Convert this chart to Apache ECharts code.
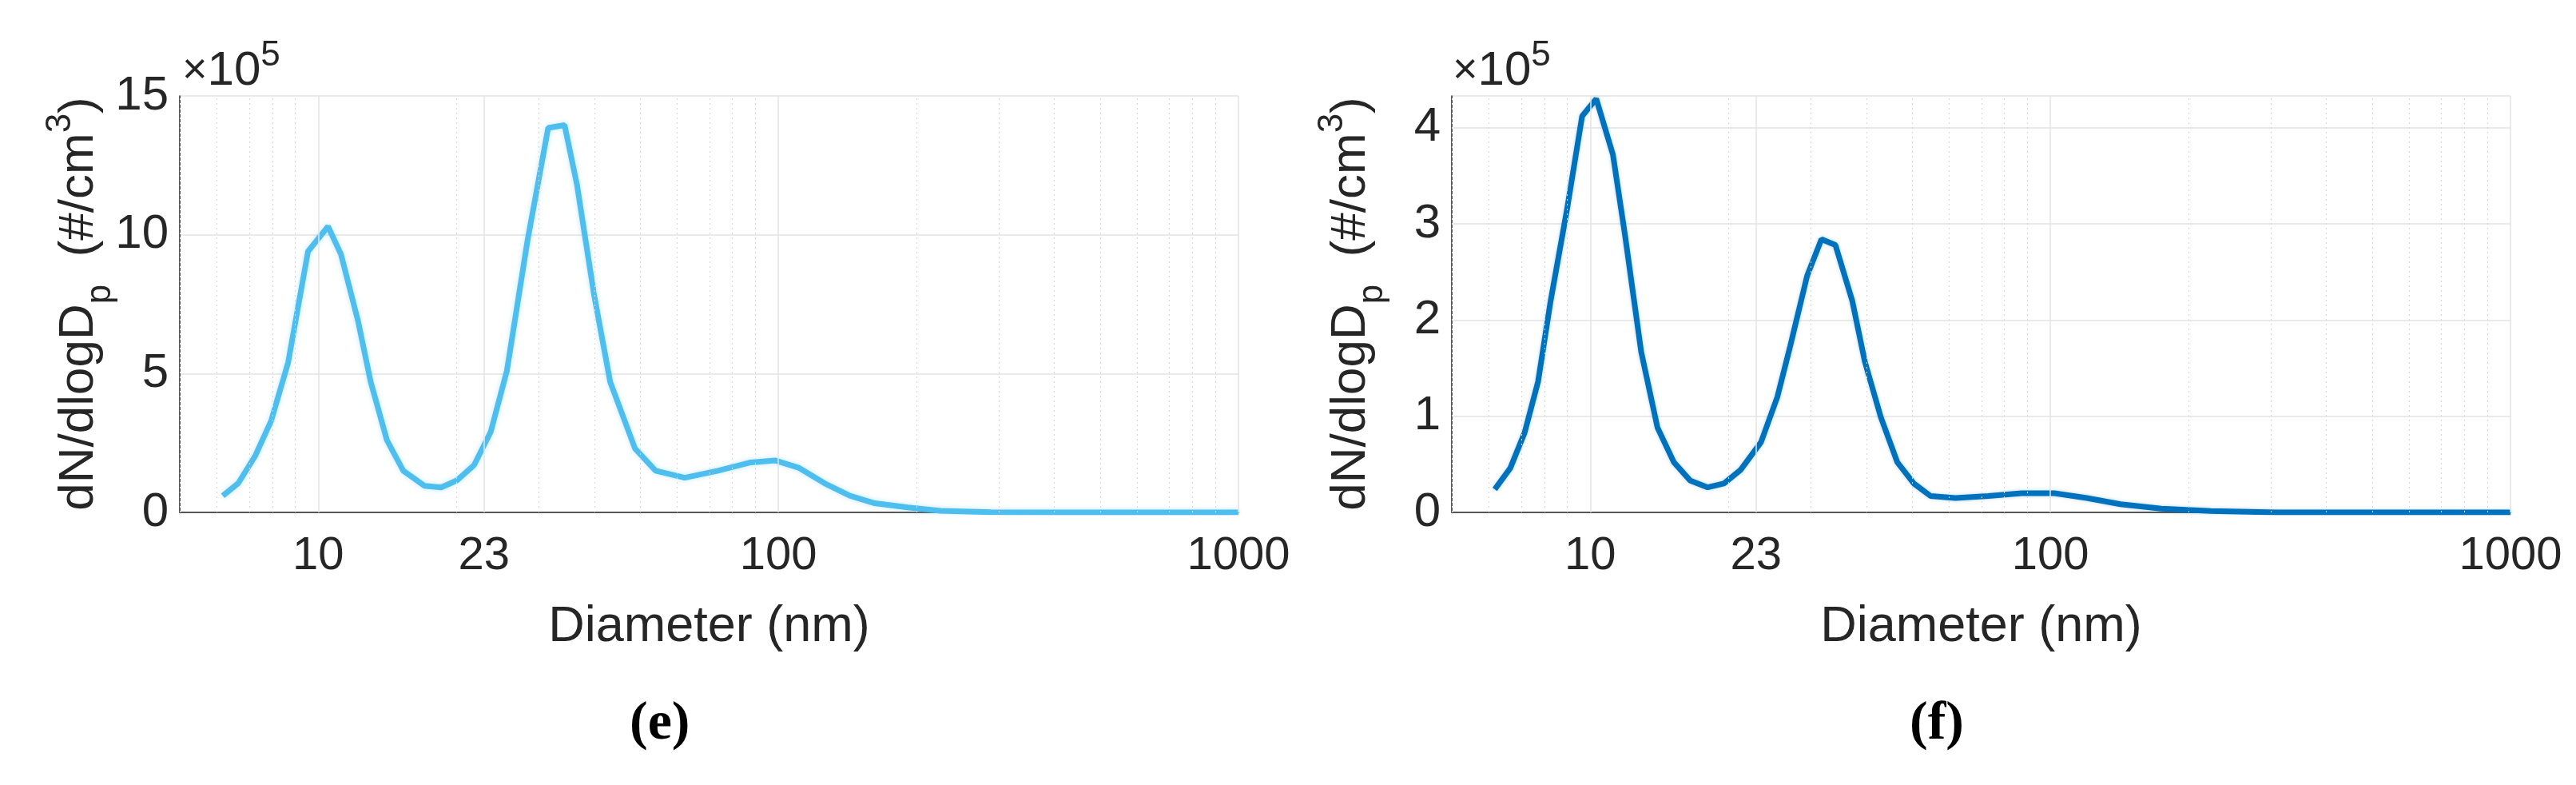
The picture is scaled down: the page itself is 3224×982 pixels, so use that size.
<!DOCTYPE html>
<html>
<head>
<meta charset="utf-8">
<script src="https://cdn.jsdelivr.net/npm/echarts@6/dist/echarts.min.js"></script>
<style>
  html, body { margin: 0; padding: 0; background: #fff; }
  #chart { width: 3224px; height: 982px; }
</style>
</head>
<body>
<div id="chart"></div>
<script>
// diameters (nm) and dN/dlogDp (x1e5)
var diamE = [6.2, 6.7, 7.3, 7.9, 8.6, 9.5, 10.5, 11.2, 12.2, 13.0, 14.1, 15.3, 17.0, 18.5, 20.0, 21.8, 23.7, 25.7, 28.5, 31.6, 34.3, 36.5, 39.7, 43.1, 48.8, 54.1, 62.6, 73.9, 87.1, 98.6, 111, 126, 143, 162, 191, 225, 290, 400, 600, 1000];
var valsE = [0.6, 1.05, 2.05, 3.3, 5.4, 9.4, 10.3, 9.3, 6.9, 4.7, 2.6, 1.5, 0.96, 0.9, 1.15, 1.7, 2.9, 5.1, 9.8, 13.85, 13.95, 11.8, 7.9, 4.7, 2.3, 1.5, 1.25, 1.5, 1.8, 1.87, 1.6, 1.05, 0.6, 0.33, 0.18, 0.06, 0.01, 0, 0, 0];
var diamF = [6.2, 6.7, 7.2, 7.7, 8.2, 8.9, 9.6, 10.3, 11.2, 11.9, 12.9, 14.0, 15.2, 16.5, 18.0, 19.5, 21.2, 23.5, 25.5, 27.2, 29.6, 31.8, 34.1, 37.1, 39.5, 42.8, 46.5, 50.5, 54.9, 62.2, 73.3, 86.6, 102, 120, 142, 174, 223, 311, 500, 1000];
var valsF = [0.24, 0.46, 0.83, 1.36, 2.2, 3.15, 4.12, 4.3, 3.72, 2.88, 1.67, 0.88, 0.52, 0.33, 0.26, 0.3, 0.44, 0.73, 1.2, 1.73, 2.46, 2.84, 2.78, 2.2, 1.57, 0.99, 0.52, 0.3, 0.17, 0.15, 0.17, 0.2, 0.2, 0.15, 0.085, 0.04, 0.015, 0, 0, 0];
var majorTicks = [10, 23, 100, 1000];
var minorTicks = [5, 6, 7, 8, 9, 20, 30, 40, 50, 60, 70, 80, 90, 200, 300, 400, 500, 600, 700, 800, 900];

var myChart = echarts.init(document.getElementById('chart'));
var font = 'Liberation Sans, Arial, sans-serif';

function pairs(d, v) {
    return d.map(function(x, i) { return [Math.log10(x), v[i]]; });
}

function gridLines() {
    var out = [];
    minorTicks.forEach(function(t) {
        out.push({ xAxis: Math.log10(t), label: { show: false },
            lineStyle: { color: '#d8d8d8', type: [2, 4], width: 1 } });
    });
    majorTicks.forEach(function(t) {
        out.push({ xAxis: Math.log10(t),
            label: { show: true, position: 'start', formatter: String(t), distance: 26,
                color: '#262626', fontSize: 58, fontFamily: font },
            lineStyle: { color: '#e3e3e3', type: 'solid', width: 1.5 } });
    });
    return out;
}

function yAxisCfg(idx, max, interval) {
    return {
        type: 'value', gridIndex: idx, min: 0, max: max, interval: interval,
        axisLine: { show: true, lineStyle: { color: '#262626', width: 1.5 } },
        axisTick: { show: false },
        axisLabel: { color: '#262626', fontSize: 60, fontFamily: font, margin: 14, showMaxLabel: idx === 0 },
        splitLine: { show: true, lineStyle: { color: '#e3e3e3', width: 1.5 } }
    };
}

function xAxisCfg(idx) {
    return {
        type: 'value', gridIndex: idx, min: Math.log10(5), max: 3,
        axisLine: { show: true, onZero: false, lineStyle: { color: '#262626', width: 1.5 } },
        axisTick: { show: false }, axisLabel: { show: false }, splitLine: { show: false },
        name: 'Diameter (nm)', nameLocation: 'middle', nameGap: 112,
        nameTextStyle: { color: '#262626', fontSize: 63, fontFamily: font }
    };
}

var yName = {
    type: 'text', rotation: Math.PI / 2,
    style: {
        text: '{a|dN/dlogD}{s|p}{a|  (#/cm}{u|3}{a|)}',
        rich: {
            a: { fontSize: 62, fontFamily: font, fill: '#262626', verticalAlign: 'bottom' },
            s: { fontSize: 44, fontFamily: font, fill: '#262626', padding: [0, 0, -18, 0], verticalAlign: 'bottom' },
            u: { fontSize: 44, fontFamily: font, fill: '#262626', padding: [0, 0, 32, 0], verticalAlign: 'bottom' }
        },
        align: 'center', verticalAlign: 'middle'
    }
};

function expo(x) {
    return { type: 'text', left: x, top: 48,
        style: { text: '{x|×}{b|10}{e|5}', rich: {
            x: { fontSize: 54, fontFamily: font, fill: '#262626' },
            b: { fontSize: 60, fontFamily: font, fill: '#262626' },
            e: { fontSize: 44, fontFamily: font, fill: '#262626', padding: [0, 0, 38, 0] } } } };
}

var option = {
    backgroundColor: '#fff',
    animation: false,
    grid: [
        { left: 225, right: 1674, top: 120, height: 521 },
        { left: 1817, right: 82, top: 120, height: 521 }
    ],
    xAxis: [xAxisCfg(0), xAxisCfg(1)],
    yAxis: [yAxisCfg(0, 15, 5), yAxisCfg(1, 4.33, 1)],
    graphic: [
        Object.assign({}, yName, { x: 92, y: 380 }),
        Object.assign({}, yName, { x: 1684, y: 380 }),
        expo(228), expo(1818),
        { type: 'text', left: 788, top: 872, style: { text: '(e)', fontSize: 68, fontWeight: 'bold', fontFamily: 'Liberation Serif, serif', fill: '#000' } },
        { type: 'text', left: 2390, top: 872, style: { text: '(f)', fontSize: 68, fontWeight: 'bold', fontFamily: 'Liberation Serif, serif', fill: '#000' } }
    ],
    series: [
        { type: 'line', xAxisIndex: 0, yAxisIndex: 0, data: pairs(diamE, valsE), showSymbol: false,
          lineStyle: { color: '#4DBEEE', width: 7, shadowColor: 'rgba(77,190,238,0.35)', shadowBlur: 6 },
          markLine: { silent: true, symbol: 'none', animation: false, data: gridLines() }, z: 3 },
        { type: 'line', xAxisIndex: 1, yAxisIndex: 1, data: pairs(diamF, valsF), showSymbol: false,
          lineStyle: { color: '#0072BD', width: 7, shadowColor: 'rgba(0,114,189,0.3)', shadowBlur: 4 },
          markLine: { silent: true, symbol: 'none', animation: false, data: gridLines() }, z: 3 }
    ]
};
myChart.setOption(option);
window.addEventListener('resize', function() {
    myChart.resize();
});
</script>
</body>
</html>
